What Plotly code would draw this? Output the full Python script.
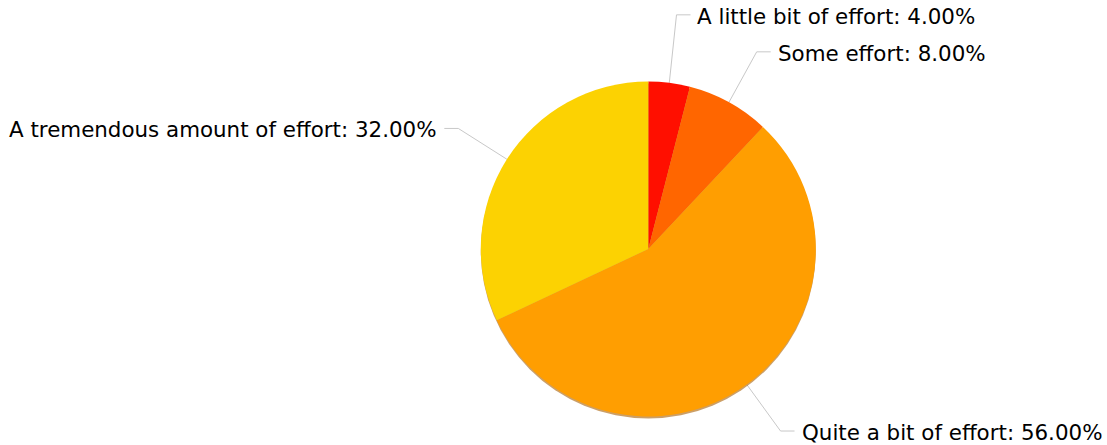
import math
import plotly.graph_objects as go

# Survey breakdown: how much effort respondents put in
labels = [
    "A little bit of effort",
    "Some effort",
    "Quite a bit of effort",
    "A tremendous amount of effort",
]
values = [4, 8, 56, 32]
colors = ["#FF0F00", "#FF6600", "#FF9E01", "#FCD202"]

# Canvas and pie geometry (pixels, origin at top-left)
W, H = 1107, 445
CX, CY = 648.3, 249.0
R = 167.5
LABEL_R = 225       # radius where leader lines bend
TICK = 14           # horizontal part of a leader line
GAP = 5             # space between leader line and text
MIN_SPACING = 37    # minimum vertical distance between labels on one side
SHADOW = 2

FONT = dict(family="Verdana, DejaVu Sans, sans-serif", size=21.4, color="#000000")


def px(x):
    return x / W


def py(y):
    return 1 - y / H


def pie_domain(dy=0.0):
    return dict(x=[px(CX - R), px(CX + R)], y=[py(CY + dy + R), py(CY + dy - R)])


fig = go.Figure()

# soft drop shadow under the pie
fig.add_trace(go.Pie(
    values=[1], marker=dict(colors=["rgba(170,95,0,0.6)"]),
    textinfo="none", hoverinfo="skip", showlegend=False, sort=False,
    domain=pie_domain(SHADOW),
))

fig.add_trace(go.Pie(
    labels=labels, values=values,
    marker=dict(colors=colors, line=dict(width=0)),
    sort=False, direction="clockwise", rotation=0,
    textinfo="none", showlegend=False,
    domain=pie_domain(),
))

# outside labels with leader lines, placed from each slice's mid-angle
total = sum(values)
items = []
cum = 0
for lab, v in zip(labels, values):
    mid = (cum + v / 2) / total * 2 * math.pi
    cum += v
    s, c = math.sin(mid), math.cos(mid)
    items.append(dict(
        text=f"{lab}: {v / total * 100:.2f}%",
        sx=CX + R * s, sy=CY - R * c,
        ex=CX + LABEL_R * s, ey=CY - LABEL_R * c,
        right=s >= 0, top=c > 0,
    ))

# keep labels on the same side from overlapping: push upper ones up, lower ones down
for right in (True, False):
    upper = sorted([it for it in items if it["right"] == right and it["top"]],
                   key=lambda it: -it["ey"])
    for a, b in zip(upper, upper[1:]):
        if a["ey"] - b["ey"] < MIN_SPACING:
            b["ey"] = a["ey"] - MIN_SPACING
    lower = sorted([it for it in items if it["right"] == right and not it["top"]],
                   key=lambda it: it["ey"])
    for a, b in zip(lower, lower[1:]):
        if b["ey"] - a["ey"] < MIN_SPACING:
            b["ey"] = a["ey"] + MIN_SPACING

shapes = []
annotations = []
for it in items:
    sign = 1 if it["right"] else -1
    hx = it["ex"] + sign * TICK
    line = dict(color="#C8C8C8", width=1)
    shapes.append(dict(type="line", xref="paper", yref="paper",
                       x0=px(it["sx"]), y0=py(it["sy"]), x1=px(it["ex"]), y1=py(it["ey"]),
                       line=line, layer="below"))
    shapes.append(dict(type="line", xref="paper", yref="paper",
                       x0=px(it["ex"]), y0=py(it["ey"]), x1=px(hx), y1=py(it["ey"]),
                       line=line, layer="below"))
    annotations.append(dict(
        text=it["text"], showarrow=False, xref="paper", yref="paper",
        x=px(hx + sign * GAP), y=py(it["ey"] + 1.5),
        xanchor="left" if it["right"] else "right", yanchor="middle",
        font=FONT,
    ))

fig.update_layout(
    width=W, height=H,
    margin=dict(l=0, r=0, t=0, b=0),
    paper_bgcolor="#FFFFFF", plot_bgcolor="#FFFFFF",
    shapes=shapes, annotations=annotations,
    showlegend=False,
)

fig.write_html("out.html")
